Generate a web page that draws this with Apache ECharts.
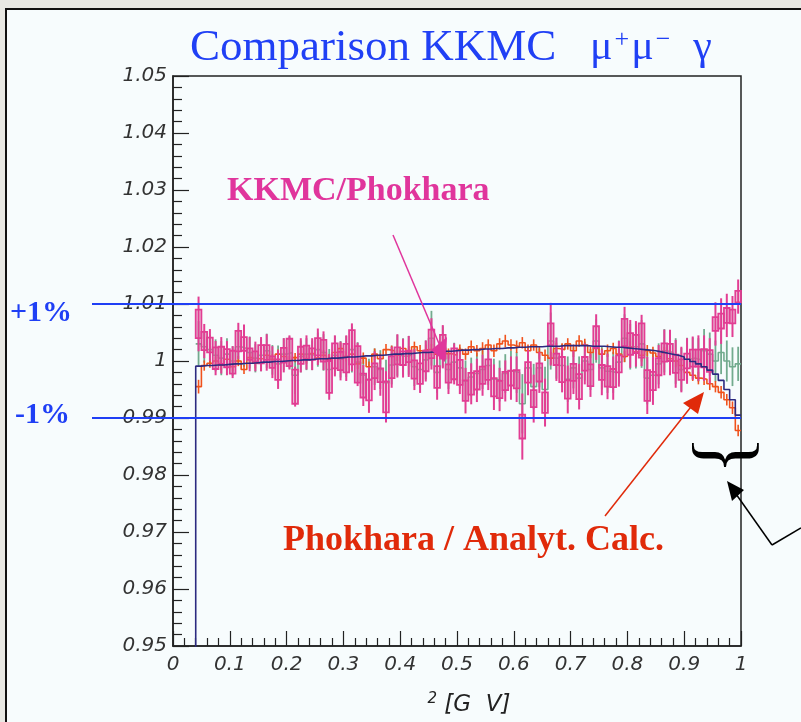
<!DOCTYPE html>
<html><head><meta charset="utf-8">
<script src="https://cdn.jsdelivr.net/npm/echarts@6/dist/echarts.min.js"></script>
<style>html,body{margin:0;padding:0;background:#e8e8e3}#c{width:801px;height:722px}</style>
</head><body><div id="c"></div>
<script>
// Histogram binning: 100 bins on [0,1]; filled bins start at 0.04
const binStart = 0.04, binWidth = 0.01;
const xTicks = ['0','0.1','0.2','0.3','0.4','0.5','0.6','0.7','0.8','0.9','1'];

// KKMC/Phokhara (pink) : value, box half-height, error half-length
const pinkVal = [
 1.0065,1.0035,1.0028,1.0005,1.0010,1.0005,0.9998,1.0035,1.0030,1.0012,1.0008,1.0012,1.0015,0.9998,0.9985,1.0010,1.0015,0.9955,1.0010,1.0015,1.0012,1.0025,
 1.0018,0.9972,1.0009,1.0000,1.0005,1.0024,0.9994,0.9957,0.9949,0.9983,0.9975,0.9937,0.9989,1.0009,1.0005,1.0008,0.9985,0.9978,1.0000,1.0030,0.9972,1.0025,0.9978,0.9995,0.9980,
 0.9948,0.9960,0.9966,0.9975,0.9985,0.9954,0.9950,0.9965,0.9970,0.9968,0.9885,0.9980,0.9934,0.9980,0.9927,1.0047,1.0003,0.9985,0.9950,0.9980,0.9955,0.9995,0.9975,1.0042,0.9980,
 0.9973,0.9970,0.9995,1.0050,1.0030,1.0030,1.0036,0.9957,0.9965,0.9990,1.0015,1.0015,0.9995,0.9985,1.0000,1.0005,1.0005,1.0005,1.0000,1.0065,1.0070,1.0080,1.0078,1.0113];
const pinkBox = [
 0.0025,0.0016,0.0013,0.0019,0.0015,0.0016,0.0020,0.0018,0.0012,0.0010,0.0009,0.0016,0.0013,0.0010,0.0018,0.0013,0.0024,0.0030,0.0015,0.0012,0.0010,0.0015,
 0.0019,0.0028,0.0022,0.0016,0.0025,0.0030,0.0032,0.0021,0.0018,0.0013,0.0012,0.0027,0.0019,0.0015,0.0012,0.0010,0.0016,0.0018,0.0018,0.0025,0.0019,0.0021,0.0016,0.0027,0.0022,
 0.0018,0.0019,0.0016,0.0015,0.0018,0.0016,0.0015,0.0016,0.0013,0.0016,0.0021,0.0018,0.0015,0.0016,0.0018,0.0019,0.0010,0.0022,0.0016,0.0015,0.0022,0.0012,0.0019,0.0019,0.0013,
 0.0018,0.0016,0.0015,0.0024,0.0019,0.0016,0.0030,0.0027,0.0016,0.0015,0.0016,0.0015,0.0016,0.0018,0.0013,0.0015,0.0015,0.0016,0.0019,0.0012,0.0013,0.0013,0.0012,0.0010];
const pinkErr = [
 0.0048,0.0030,0.0028,0.0030,0.0032,0.0030,0.0028,0.0032,0.0034,0.0030,0.0026,0.0030,0.0032,0.0028,0.0034,0.0030,0.0030,0.0035,0.0030,0.0030,0.0028,0.0032,
 0.0034,0.0040,0.0036,0.0034,0.0040,0.0042,0.0038,0.0036,0.0040,0.0034,0.0036,0.0045,0.0036,0.0038,0.0034,0.0036,0.0036,0.0034,0.0036,0.0045,0.0040,0.0038,0.0036,0.0036,0.0038,
 0.0040,0.0036,0.0038,0.0036,0.0036,0.0040,0.0038,0.0036,0.0038,0.0040,0.0058,0.0040,0.0042,0.0036,0.0042,0.0055,0.0038,0.0040,0.0042,0.0038,0.0040,0.0036,0.0038,0.0040,0.0040,
 0.0040,0.0038,0.0040,0.0045,0.0042,0.0040,0.0045,0.0050,0.0042,0.0038,0.0040,0.0040,0.0042,0.0040,0.0040,0.0038,0.0040,0.0040,0.0040,0.0038,0.0040,0.0038,0.0036,0.0030];

// second KKMC ratio (green)
const greenVal = [
 1.0030,1.0025,1.0020,1.0010,1.0005,1.0012,1.0000,1.0025,1.0022,1.0015,1.0005,1.0010,1.0018,1.0002,0.9995,1.0012,1.0015,0.9975,1.0008,1.0012,1.0010,1.0020,
 1.0015,0.9985,1.0010,1.0003,1.0008,1.0020,0.9998,0.9975,0.9968,0.9990,0.9985,0.9962,0.9993,1.0010,1.0008,1.0010,0.9990,0.9985,1.0002,1.0040,0.9980,1.0025,0.9985,0.9998,0.9988,
 0.9965,0.9972,0.9978,0.9985,0.9992,0.9968,0.9965,0.9978,0.9982,0.9980,0.9925,0.9988,0.9955,0.9988,0.9950,1.0035,1.0005,0.9992,0.9968,0.9988,0.9970,1.0000,0.9985,1.0035,0.9988,
 0.9982,0.9980,0.9998,1.0040,1.0025,1.0025,1.0030,0.9970,0.9975,0.9995,1.0018,1.0015,1.0000,0.9985,1.0003,1.0005,1.0002,1.0018,1.0012,1.0000,1.0015,1.0000,0.9990,0.9995];
const greenErr = [
 0.0040,0.0028,0.0026,0.0028,0.0030,0.0028,0.0026,0.0030,0.0032,0.0028,0.0025,0.0028,0.0030,0.0026,0.0032,0.0028,0.0028,0.0033,0.0028,0.0028,0.0026,0.0030,
 0.0032,0.0036,0.0034,0.0032,0.0036,0.0040,0.0035,0.0034,0.0036,0.0032,0.0034,0.0040,0.0034,0.0036,0.0032,0.0034,0.0034,0.0032,0.0034,0.0048,0.0036,0.0036,0.0034,0.0034,0.0036,
 0.0036,0.0034,0.0036,0.0034,0.0034,0.0036,0.0036,0.0034,0.0036,0.0036,0.0052,0.0036,0.0040,0.0034,0.0040,0.0050,0.0036,0.0038,0.0040,0.0036,0.0038,0.0034,0.0036,0.0038,0.0038,
 0.0038,0.0036,0.0038,0.0042,0.0040,0.0038,0.0042,0.0046,0.0040,0.0036,0.0038,0.0038,0.0040,0.0038,0.0038,0.0036,0.0038,0.0038,0.0038,0.0036,0.0038,0.0036,0.0034,0.0030];

// Phokhara / Analyt. Calc. (orange-red)
const orangeVal = [
 0.9955,0.9992,0.9996,1.0000,0.9993,1.0003,0.9990,1.0000,0.9985,1.0006,0.9996,1.0004,1.0010,1.0003,1.0012,1.0008,1.0000,1.0006,1.0012,1.0004,1.0013,1.0005,
 1.0010,1.0002,1.0015,1.0022,1.0008,1.0012,0.9995,1.0005,0.9990,1.0012,1.0004,1.0020,1.0018,1.0010,1.0022,1.0016,1.0025,1.0018,1.0020,1.0020,1.0012,1.0022,1.0013,1.0010,1.0020,
 1.0012,1.0025,1.0018,1.0022,1.0028,1.0018,1.0030,1.0035,1.0028,1.0025,1.0032,1.0018,1.0028,1.0015,1.0010,1.0005,1.0022,1.0020,1.0030,1.0018,1.0035,1.0028,1.0015,1.0022,1.0012,
 1.0018,1.0022,1.0012,1.0008,1.0024,1.0016,1.0010,1.0018,1.0014,1.0008,1.0014,1.0004,1.0000,0.9992,0.9980,0.9975,0.9970,0.9968,0.9960,0.9955,0.9945,0.9932,0.9918,0.9878];
const orangeErr = [
 0.0012,0.0009,0.0008,0.0008,0.0009,0.0008,0.0008,0.0009,0.0008,0.0008,0.0009,0.0008,0.0008,0.0009,0.0008,0.0008,0.0009,0.0008,0.0008,0.0009,0.0008,0.0008,
 0.0009,0.0010,0.0009,0.0010,0.0009,0.0010,0.0009,0.0010,0.0009,0.0010,0.0009,0.0010,0.0009,0.0010,0.0009,0.0010,0.0009,0.0010,0.0009,0.0010,0.0009,0.0010,0.0009,0.0010,0.0009,
 0.0010,0.0011,0.0010,0.0011,0.0010,0.0011,0.0010,0.0011,0.0010,0.0011,0.0010,0.0011,0.0010,0.0011,0.0010,0.0011,0.0010,0.0011,0.0010,0.0011,0.0010,0.0011,0.0010,0.0011,0.0010,
 0.0011,0.0010,0.0011,0.0010,0.0011,0.0010,0.0011,0.0010,0.0011,0.0010,0.0011,0.0010,0.0011,0.0010,0.0011,0.0010,0.0011,0.0010,0.0011,0.0010,0.0011,0.0010,0.0011,0.0010];

// smooth reference curve (navy)
const navyVal = [
 0.9991,0.9992,0.9992,0.9993,0.9993,0.9994,0.9995,0.9995,0.9996,0.9996,0.9997,0.9998,0.9998,0.9999,0.9999,1.0000,1.0001,1.0001,1.0002,1.0002,1.0003,1.0004,
 1.0004,1.0005,1.0005,1.0006,1.0007,1.0007,1.0008,1.0009,1.0009,1.0010,1.0010,1.0011,1.0012,1.0012,1.0013,1.0013,1.0014,1.0015,1.0015,1.0016,1.0016,1.0017,1.0017,1.0018,1.0019,
 1.0019,1.0020,1.0020,1.0021,1.0021,1.0022,1.0022,1.0023,1.0023,1.0024,1.0024,1.0025,1.0025,1.0025,1.0026,1.0026,1.0026,1.0027,1.0027,1.0027,1.0027,1.0027,1.0026,1.0026,1.0026,
 1.0025,1.0024,1.0024,1.0023,1.0022,1.0021,1.0020,1.0019,1.0018,1.0016,1.0014,1.0012,1.0010,1.0007,1.0003,0.9999,0.9995,0.9990,0.9984,0.9977,0.9966,0.9950,0.9932,0.9905];

const refLines = [1.01, 0.99];

const edgeLo = i => +(binStart + i * binWidth).toFixed(4);
const edgeHi = i => +(binStart + (i + 1) * binWidth).toFixed(4);

function stepData(vals, lead) {
  const d = [];
  if (lead !== undefined) d.push([0, lead]);
  vals.forEach((v, i) => d.push([edgeLo(i), v]));
  d.push([edgeHi(vals.length - 1), vals[vals.length - 1]]);
  return d;
}
function errData(vals, errs, box) {
  return vals.map((v, i) => [edgeLo(i), edgeHi(i), v, box ? box[i] : 0, errs[i]]);
}

const PINK = '#e23d93', GREEN = '#72ab8e', ORANGE = '#f0521c', NAVY = '#2c2a80', BLUE = '#1f3ff5';

function errRender(color, width, drawBox) {
  return function (params, api) {
    const x0 = api.value(0), x1 = api.value(1), v = api.value(2), b = api.value(3), e = api.value(4);
    const xm = (x0 + x1) / 2;
    const top = api.coord([xm, v + e]), bot = api.coord([xm, v - e]);
    const children = [];
    if (drawBox) {
      const p0 = api.coord([x0, v + b]), p1 = api.coord([x1, v - b]);
      children.push({type: 'rect', shape: {x: p0[0], y: p0[1], width: p1[0] - p0[0], height: p1[1] - p0[1]},
        style: {fill: 'rgba(215,150,180,0.35)', stroke: color, lineWidth: 1.8}});
    }
    children.push({type: 'line', shape: {x1: top[0], y1: top[1], x2: bot[0], y2: bot[1]},
      style: {stroke: color, lineWidth: width}});
    return {type: 'group', children};
  };
}

const chart = echarts.init(document.getElementById('c'), null, {renderer: 'canvas'});
const axisCol = '#222';
const labelFont = {fontFamily: 'DejaVu Sans', fontStyle: 'italic', fontSize: 20, color: '#333'};

chart.setOption({
  backgroundColor: '#e8e8e3',
  animation: false,
  grid: {left: 173, right: 60, top: 76, bottom: 74, show: true, borderColor: axisCol, borderWidth: 1.5, backgroundColor: 'transparent'},
  xAxis: {
    type: 'value', min: 0, max: 1, interval: 0.1,
    axisLine: {show: true, onZero: false, lineStyle: {color: axisCol, width: 1.5}},
    axisTick: {show: true, inside: true, length: 15, lineStyle: {color: axisCol, width: 1.2}},
    minorTick: {show: true, splitNumber: 5, length: 8, lineStyle: {color: axisCol, width: 1.2}},
    splitLine: {show: false},
    axisLabel: Object.assign({margin: 9, formatter: (v) => xTicks[Math.round(v * 10)]}, labelFont),
    name: '{s|2} [G  V]', nameLocation: 'middle', nameGap: 46,
    nameTextStyle: {fontFamily: 'DejaVu Sans', fontStyle: 'italic', fontSize: 23, color: '#222', padding: [0, 0, 0, 24],
      rich: {s: {fontFamily: 'DejaVu Sans', fontStyle: 'italic', fontSize: 15, color: '#222', verticalAlign: 'top', padding: [0, 0, 12, 0]}}}
  },
  yAxis: {
    type: 'value', min: 0.95, max: 1.05, interval: 0.01,
    axisLine: {show: true, onZero: false, lineStyle: {color: axisCol, width: 1.5}},
    axisTick: {show: true, inside: true, length: 16, lineStyle: {color: axisCol, width: 1.2}},
    minorTick: {show: true, splitNumber: 5, length: 9, lineStyle: {color: axisCol, width: 1.2}},
    splitLine: {show: false},
    axisLabel: Object.assign({margin: 6}, labelFont)
  },
  series: [
    {type: 'custom', name: 'green err', data: errData(greenVal, greenErr), encode: {x: [0, 1], y: 2},
      renderItem: errRender(GREEN, 1.8, false), z: 2},
    {type: 'line', name: 'green', data: stepData(greenVal), step: 'end', showSymbol: false, symbol: 'none',
      lineStyle: {color: GREEN, width: 1.6}, z: 2},
    {type: 'custom', name: 'orange err', data: errData(orangeVal, orangeErr), encode: {x: [0, 1], y: 2},
      renderItem: errRender(ORANGE, 1.6, false), z: 3},
    {type: 'line', name: 'Phokhara / Analyt. Calc.', data: stepData(orangeVal), step: 'end', showSymbol: false, symbol: 'none',
      lineStyle: {color: ORANGE, width: 1.6}, z: 3},
    {type: 'custom', name: 'KKMC/Phokhara', data: errData(pinkVal, pinkErr, pinkBox), encode: {x: [0, 1], y: 2},
      renderItem: errRender(PINK, 2, true), z: 4},
    {type: 'line', name: 'curve', data: stepData(navyVal, 0), step: 'end', showSymbol: false, symbol: 'none',
      lineStyle: {color: NAVY, width: 1.6}, z: 5, clip: true},
    {type: 'custom', name: 'ref', data: refLines.map(v => [v]), encode: {y: 0}, clip: false, z: 6,
      renderItem: function (params, api) {
        const v = api.value(0);
        const a = api.coord([0, v]), b = api.coord([1, v]);
        return {type: 'line', shape: {x1: a[0] - 81, y1: a[1], x2: b[0], y2: b[1]}, style: {stroke: BLUE, lineWidth: 2}};
      }}
  ],
  graphic: [
    {type: 'rect', z: -100, silent: true, shape: {x: 6, y: 9, width: 810, height: 730},
      style: {fill: '#f7fcfd', stroke: '#111', lineWidth: 2}},
    {type: 'text', x: 190, y: 48, z: 10, style: {text: 'Comparison KKMC', font: '45px "Liberation Serif"', fill: '#2040f5', verticalAlign: 'middle'}},
    {type: 'text', x: 590, y: 48, z: 10, style: {text: '{m|μ}{s|+}{m|μ}{s|−}  {m|γ}', font: '42px "Liberation Serif"', fill: '#2040f5', verticalAlign: 'middle',
      rich: {m: {font: '42px "Liberation Serif"', fill: '#2040f5'}, s: {font: '26px "Liberation Serif"', fill: '#2040f5', verticalAlign: 'top', padding: [0, 2, 14, 2]}}}},
    {type: 'text', x: 227, y: 191, z: 10, style: {text: 'KKMC/Phokhara', font: 'bold 34px "Liberation Serif"', fill: '#e0359c', verticalAlign: 'middle'}},
    {type: 'text', x: 283, y: 541, z: 10, style: {text: 'Phokhara / Analyt. Calc.', font: 'bold 36px "Liberation Serif"', fill: '#e02a0a', verticalAlign: 'middle'}},
    {type: 'text', x: 10, y: 313, z: 10, style: {text: '+1%', font: 'bold 30px "Liberation Serif"', fill: '#1f3ff5', verticalAlign: 'middle'}},
    {type: 'text', x: 15, y: 415, z: 10, style: {text: '-1%', font: 'bold 30px "Liberation Serif"', fill: '#1f3ff5', verticalAlign: 'middle'}},
    // pink arrow
    {type: 'line', z: 10, shape: {x1: 393, y1: 235, x2: 440, y2: 346}, style: {stroke: '#e0359c', lineWidth: 1.5}},
    {type: 'polygon', z: 10, shape: {points: [[431, 350], [447, 337], [445, 362]]}, style: {fill: '#e0359c'}},
    // red arrow
    {type: 'line', z: 10, shape: {x1: 605, y1: 516, x2: 694, y2: 403}, style: {stroke: '#e02a0a', lineWidth: 1.5}},
    {type: 'polygon', z: 10, shape: {points: [[704, 392], [683, 403], [698, 414]]}, style: {fill: '#e02a0a'}},
    // brace
    {type: 'text', x: 724, y: 455, rotation: -Math.PI / 2, z: 10,
      style: {text: '}', font: '80px "Liberation Serif"', fill: '#000', align: 'center', verticalAlign: 'middle'}},
    // black arrow
    {type: 'line', z: 10, shape: {x1: 772, y1: 545, x2: 736, y2: 494}, style: {stroke: '#000', lineWidth: 1.5}},
    {type: 'line', z: 10, shape: {x1: 772, y1: 545, x2: 801, y2: 528}, style: {stroke: '#000', lineWidth: 1.5}},
    {type: 'polygon', z: 10, shape: {points: [[727, 481], [744, 490], [732, 501]]}, style: {fill: '#000'}}
  ]
});
</script>
</body></html>
